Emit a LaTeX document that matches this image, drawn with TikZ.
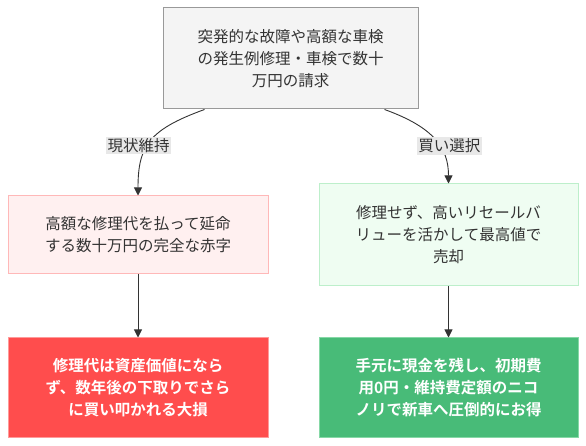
\documentclass[tikz,border=0pt]{standalone}
\usepackage{fontspec}
\newfontfamily\jp[BoldFont={Noto Sans CJK JP Bold}]{Noto Sans CJK JP}
\usetikzlibrary{arrows.meta,positioning}

\definecolor{txtgray}{HTML}{333333}
\definecolor{topfill}{HTML}{F4F4F4}
\definecolor{topline}{HTML}{999999}
\definecolor{redsoft}{HTML}{FFF0F0}
\definecolor{redsoftline}{HTML}{FFB8B8}
\definecolor{greensoft}{HTML}{EFFDF2}
\definecolor{greensoftline}{HTML}{BDEFCB}
\definecolor{redhard}{HTML}{FF4D4D}
\definecolor{redhardline}{HTML}{FF9A9A}
\definecolor{greenhard}{HTML}{48BB78}
\definecolor{greenhardline}{HTML}{86D8A6}
\definecolor{lblfill}{HTML}{E8E8E8}

\begin{document}
\begin{tikzpicture}[
  x=1pt,y=1pt,
  node distance=63pt and 51pt,
  box/.style={draw,line width=1pt,align=center,inner sep=0pt,
    font=\jp\fontsize{15.5}{22}\selectfont,text=txtgray},
  edge/.style={draw=txtgray,line width=0.9pt,-{Triangle[length=8pt,width=8pt]}},
  lbl/.style={fill=lblfill,text=txtgray,inner sep=1.5pt,font=\jp\fontsize{15.5}{18}\selectfont}
]
  \useasboundingbox (0,0) rectangle (586,446);

  \node[box,fill=topfill,draw=topline,minimum width=255pt,minimum height=101pt] (trouble) at (290.5,387.5)
    {突発的な故障や高額な車検\\の発生例修理・車検で数十\\万円の請求};

  \node[box,fill=redsoft,draw=redsoftline,minimum width=260pt,minimum height=78pt] (keep) at (138,211)
    {高額な修理代を払って延命\\する数十万円の完全な赤字};
  \node[box,fill=greensoft,draw=greensoftline,minimum width=259pt,minimum height=102pt] (sell) at (448.5,211)
    {修理せず、高いリセールバ\\リューを活かして最高値で\\売却};

  \node[box,fill=redhard,draw=redhardline,text=white,font=\jp\bfseries\fontsize{15.5}{22}\selectfont,
    minimum width=260pt,minimum height=100pt,below=63pt of keep] (loss)
    {修理代は資産価値になら\\ず、数年後の下取りでさら\\に買い叩かれる大損};
  \node[box,fill=greenhard,draw=greenhardline,text=white,font=\jp\bfseries\fontsize{15.5}{22}\selectfont,
    minimum width=259pt,minimum height=100pt,below=51pt of sell] (gain)
    {手元に現金を残し、初期費\\用0円・維持費定額のニコ\\ノリで新車へ圧倒的にお得};

  \draw[edge] ([xshift=42pt]trouble.south west) .. controls +(-55,-20) and +(0,50) .. (keep.north)
    node[lbl,pos=0.5,xshift=-12pt,yshift=-4pt] (keeplbl) {現状維持};
  \draw[edge] ([xshift=-34pt]trouble.south east) .. controls +(50,-18) and +(0,35) .. (sell.north)
    node[lbl,pos=0.5,xshift=14pt,yshift=-6pt] (selllbl) {買い選択};

  \draw[edge] (keep) -- (loss);
  \draw[edge] (sell) -- (gain);
\end{tikzpicture}
\end{document}
